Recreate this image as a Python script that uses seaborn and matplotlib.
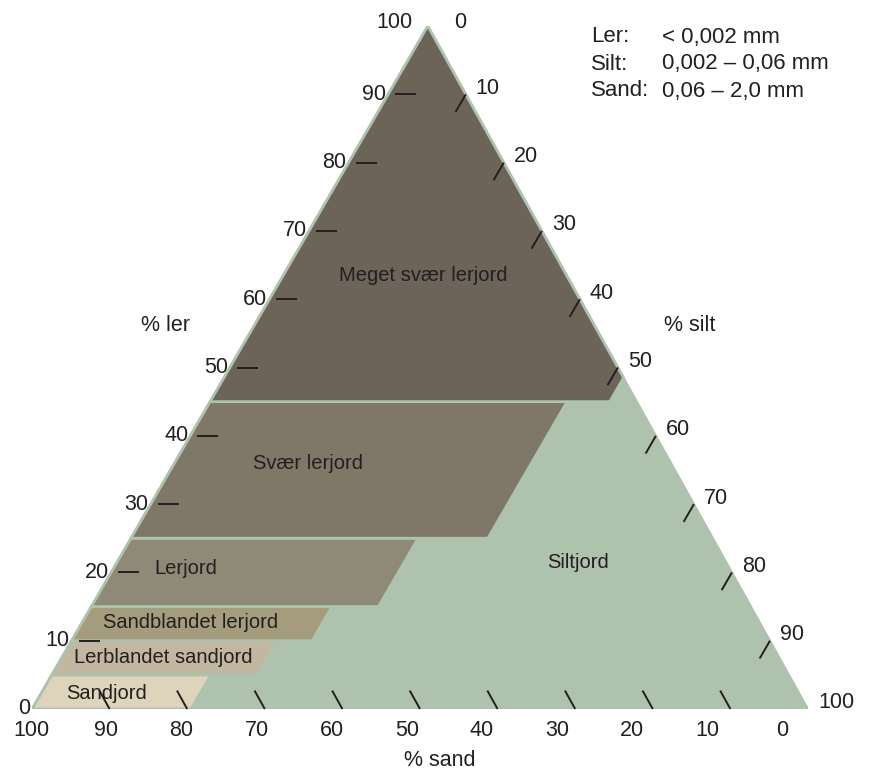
import matplotlib.pyplot as plt
import seaborn as sns
from matplotlib.patches import Polygon

# Soil classes (Danish texture triangle): clay band and upper silt limit, in %
class_names = [
    "Sandjord",
    "Lerblandet sandjord",
    "Sandblandet lerjord",
    "Lerjord",
    "Svær lerjord",
    "Meget svær lerjord",
]
clay_lower = [0, 5, 10, 15, 25, 45]
clay_upper = [5, 10, 15, 25, 45, 100]
silt_limit = [20.5, 26.5, 31, 37, 46, 51.5]
class_colors = ["#ded4bc", "#c2b7a1", "#a49c7d", "#8f8977", "#7f7868", "#6c6459"]

rest_name = "Siltjord"
rest_color = "#aec2ad"

axis_ticks = [0, 10, 20, 30, 40, 50, 60, 70, 80, 90, 100]

legend_names = ["Ler:", "Silt:", "Sand:"]
legend_ranges = ["< 0,002 mm", "0,002 – 0,06 mm", "0,06 – 2,0 mm"]

# layout: where the class names sit, as (silt, clay, alignment)
label_anchor = [
    (3.2, 2.3, "left"),
    (1.6, 7.6, "left"),
    (2.7, 12.7, "left"),
    (5.2, 20.6, "left"),
    (17.2, 36.0, "center"),
    (18.1, 63.4, "center"),
]
rest_anchor = (59.5, 21.4)

SKEW = 0.51        # apex sits a bit right of the base centre
INK = "#231f20"
W, H = 871, 773


def to_xy(silt, clay):
    return silt + SKEW * clay, clay


def band_polygon(lo, hi, s):
    pts = [(0, lo), (s, lo)]
    top = min(hi, 100 - s)
    pts.append((s, top))
    if hi > top:
        pts.append((100 - hi, hi))
    pts.append((0, hi))
    return [to_xy(*p) for p in pts]


sns.set_theme(style="white")
plt.rcParams["font.family"] = ["Liberation Sans", "DejaVu Sans"]

fig = plt.figure(figsize=(W / 100, H / 100), dpi=100)
ax = fig.add_axes([32 / W, 64 / H, 776 / W, 683 / H])
ax.set_xlim(0, 100)
ax.set_ylim(0, 100)
ax.axis("off")

# whole triangle = siltjord
tri = [to_xy(0, 0), to_xy(100, 0), to_xy(0, 100)]
ax.add_patch(Polygon(tri, closed=True, facecolor=rest_color,
                     edgecolor=rest_color, lw=1.5, zorder=1))

for lo, hi, s, col in zip(clay_lower, clay_upper, silt_limit, class_colors):
    ax.add_patch(Polygon(band_polygon(lo, hi, s), closed=True, facecolor=col,
                         edgecolor=rest_color, lw=2, joinstyle="miter", zorder=2))

for name, (s, c, ha) in zip(class_names, label_anchor):
    ax.text(*to_xy(s, c), name, ha=ha, va="center", fontsize=14.5, color=INK, zorder=5)
ax.text(*to_xy(*rest_anchor), rest_name, ha="center", va="center",
        fontsize=14.5, color=INK, zorder=5)

tick_kw = dict(color=INK, lw=1.4, zorder=4, solid_capstyle="butt", clip_on=False)
lab_kw = dict(fontsize=15.5, color=INK, textcoords="offset pixels",
              annotation_clip=False, va="center")

for v in axis_ticks:
    # % ler on the left edge (silt = 0)
    x0, y0 = to_xy(0, v)
    if 0 < v < 100:
        ax.plot([x0 + 0.9, x0 + 3.6], [y0, y0], **tick_kw)
    if v < 100:
        ax.annotate(str(v), (x0, y0), xytext=(-2, 0), ha="right", **lab_kw)

    # % silt on the right edge (sand = 0)
    s = v
    xs, ys = to_xy(s, 100 - s)
    if 0 < v < 100:
        xe, ye = to_xy(s, 100 - s - 2.6)
        ax.plot([xs, xe], [ys, ye], **tick_kw)
    if v > 0:
        ax.annotate(str(v), (xs, ys), xytext=(10, 6), ha="left", **lab_kw)

    # % sand along the bottom (clay = 0)
    sand = v
    xb, yb = to_xy(100 - sand, 0)
    if 0 < v < 100:
        xe, ye = to_xy(100 - sand - 2.7, 2.7)
        ax.plot([xb, xe], [yb, ye], **tick_kw)
    ax.annotate(str(v), (0.968 * (100 - sand) - 0.1, 0), xytext=(0, -22),
                ha="center", **lab_kw)

# labels at the apex
xa, ya = to_xy(0, 100)
ax.annotate("100", (xa, ya), xytext=(-15, 4), ha="right", **lab_kw)
ax.annotate("0", (xa, ya), xytext=(32, 4), ha="center", **lab_kw)

# axis titles
fig.text(165 / W, 1 - 325 / H, "% ler", ha="center", va="center", fontsize=15.5, color=INK)
fig.text(690 / W, 1 - 325 / H, "% silt", ha="center", va="center", fontsize=15.5, color=INK)
fig.text(440 / W, 1 - 761 / H, "% sand", ha="center", va="center", fontsize=15.5, color=INK)

# grain size legend
for i, (n, r) in enumerate(zip(legend_names, legend_ranges)):
    y = 1 - (37 + 27 * i) / H
    fig.text(591 / W, y, n, ha="left", va="center", fontsize=16, color=INK)
    fig.text(662 / W, y, r, ha="left", va="center", fontsize=16, color=INK)

fig.savefig("out.png", dpi=100, facecolor="white")
